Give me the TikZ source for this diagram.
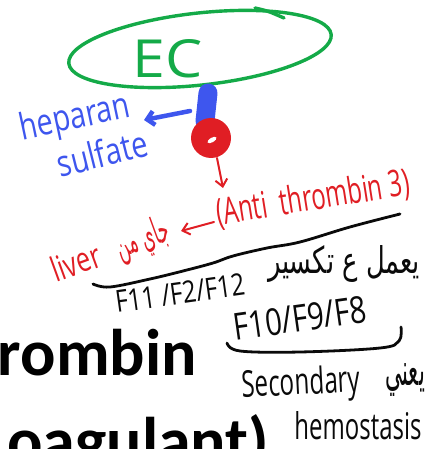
\documentclass[tikz,border=0pt]{standalone}
\usepackage{graphicx}
\usepackage{fontspec}
\setmainfont{Open Sans}
\newfontfamily\slidefont{Carlito}
\newfontfamily\arabicfont[Script=Arabic]{DejaVu Sans}
\TeXXeTstate=1
\usetikzlibrary{arrows.meta}

\definecolor{ecgreen}{RGB}{20,170,72}
\definecolor{penblue}{RGB}{62,86,238}
\definecolor{penred}{RGB}{224,30,36}
\definecolor{penblack}{RGB}{10,10,10}

% scale a piece of handwriting to a given width and height (in pt)
\newcommand{\handw}[3]{\resizebox{#1pt}{#2pt}{#3}}

\tikzset{
  hand/.style={inner sep=0pt, outer sep=0pt},
  greenpen/.style={draw=ecgreen, line width=3.4pt, line cap=round, line join=round},
  blackpen/.style={draw=penblack, line width=2.8pt, line cap=round, line join=round},
  redpen/.style={draw=penred, line width=2pt, line cap=round, line join=round},
  bluepen/.style={draw=penblue, line width=4.5pt, line cap=round, line join=round},
  slide/.style={inner sep=0pt, outer sep=0pt, font=\slidefont\bfseries\fontsize{66}{66}\selectfont},
}

\begin{document}
\begin{tikzpicture}[x=1pt, y=-1pt]
\useasboundingbox (0,0) rectangle (432,449);
\clip (0,0) rectangle (432,449);

% slide text underneath the annotations
\node[slide, anchor=base west] (t1) at (-2,375) {rombin};
\node[slide, anchor=base east] (t2) at (269,463) {oagulant)};

% endothelial cell
\draw[greenpen, rotate around={6.3:(200,49)}] (200,49) ellipse [x radius=132, y radius=36];
\draw[greenpen] (255,8) .. controls (268,11) .. (284,18);
\node[hand, text=ecgreen, anchor=base] (ec) at (168,78) {\handw{70}{38}{EC}};

% heparan sulfate anchor and antithrombin
\draw[penblue, line width=19pt, line cap=round] (208,93) -- (205,121);
\fill[penred] (211,138) circle (20);
\fill[white, rotate around={30:(212,140)}] (212,140) ellipse [x radius=5, y radius=2.3];
\coordinate (hs) at (190,111);
\coordinate (at) at (217,158);

\node[hand, text=penblue, rotate=12] (hep) at (75,119) {\handw{112}{28}{heparan}};
\node[hand, text=penblue, rotate=14] (sul) at (102,153) {\handw{92}{28}{sulfate}};
\coordinate (hepend) at (144,120);
\draw[bluepen, -{Straight Barb[length=7pt,width=14pt]}] (hs) -- (hepend);

\node[hand, text=penred, rotate=9] (atiii) at (313,199) {\handw{195}{28}{(Anti \ thrombin 3)}};
\coordinate (atdown) at (223,188);
\draw[redpen, -{Straight Barb[length=7pt,width=12pt]}] (at) -- (atdown);

\node[hand, text=penred, rotate=20] (liver) at (76,262) {\handw{50}{26}{liver}};
\node[hand, text=penred, rotate=20] (from) at (143,240) {\handw{54}{28}{\arabicfont\beginR جاي من\endR}};
\coordinate (atleft) at (214,222);
\coordinate (fromend) at (181,231);
\draw[redpen, -{Straight Barb[length=7pt,width=12pt]}] (atleft) -- (fromend);

% breaks down the factors
\draw[blackpen] plot[smooth, tension=0.6] coordinates {(93,284) (110,287) (150,279) (183,271) (213,263) (233,256) (267,248) (300,242) (350,227) (400,214)};
\node[hand, text=penblack] (breaks) at (344,264) {\handw{152}{28}{\arabicfont\beginR يعمل ع تكسير\endR}};

\node[hand, text=penblack, rotate=8] (f11) at (180,293) {\handw{130}{22}{F11 /F2/F12}};
\node[hand, text=penblack, rotate=8] (f10) at (300,318) {\handw{134}{27}{F10/F9/F8}};
\draw[blackpen] plot[smooth, tension=0.6] coordinates {(227,343) (240,351) (300,352) (380,348) (399,341) (401,327)};

\node[hand, text=penblack, rotate=3] (sec) at (301,385) {\handw{118}{28}{Secondary}};
\node[hand, text=penblack] (means) at (405,380) {\handw{40}{22}{\arabicfont\beginR يعني\endR}};
\node[hand, text=penblack] (hemo) at (358,426) {\handw{127}{28}{hemostasis}};
\end{tikzpicture}
\end{document}
